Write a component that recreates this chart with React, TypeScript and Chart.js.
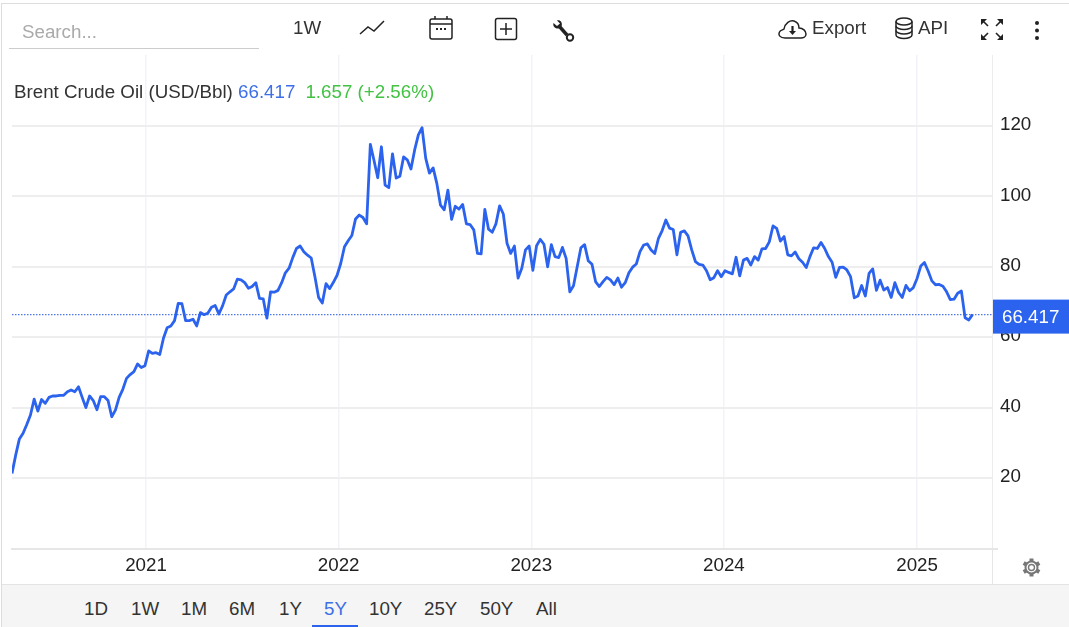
import React, { useEffect, useRef } from "react";
import Chart from "chart.js/auto";

// weekly closes, first one is late April 2020
const prices = [
  21.3, 26.5, 31.1, 32.7, 35.2, 37.9, 42.4, 39.0, 42.3, 41.2,
  42.9, 43.3, 43.3, 43.5, 43.5, 44.5, 45.0, 44.5, 45.9, 42.9,
  40.0, 43.3, 42.0, 39.4, 43.1, 43.1, 42.0, 37.4, 39.3, 42.9,
  45.2, 48.3, 49.4, 50.2, 52.4, 51.4, 51.9, 56.1, 55.4, 55.6,
  55.1, 59.7, 62.7, 63.2, 64.7, 69.6, 69.5, 64.7, 64.7, 65.1,
  63.2, 67.0, 66.4, 66.8, 68.5, 69.0, 66.6, 68.9, 72.0, 72.9,
  73.7, 76.5, 76.3, 75.5, 73.9, 74.4, 75.5, 71.0, 70.9, 65.4,
  72.9, 72.8, 73.3, 75.5, 78.3, 79.6, 82.6, 85.2, 85.9, 84.3,
  83.3, 82.5, 77.2, 71.3, 69.7, 75.2, 73.8, 75.6, 77.6, 81.0,
  85.7, 87.4, 88.9, 93.6, 94.7, 94.0, 92.2, 114.8, 110.2, 105.3,
  114.1, 103.2, 102.5, 112.1, 105.2, 105.7, 111.2, 110.4, 107.8, 113.2,
  117.5, 119.5, 110.8, 106.6, 108.1, 103.7, 97.5, 96.2, 101.8, 93.5,
  97.2, 96.4, 97.7, 92.2, 92.0, 90.5, 83.8, 83.7, 96.3, 90.7,
  89.8, 92.2, 97.3, 95.0, 86.7, 83.8, 85.9, 76.8, 79.6, 84.8,
  85.9, 79.0, 86.0, 87.8, 86.4, 80.0, 86.3, 82.9, 82.6, 85.5,
  82.4, 72.9, 74.6, 80.0, 85.4, 86.3, 81.7, 80.7, 75.7, 74.4,
  75.8, 77.0, 76.3, 74.9, 76.8, 74.2, 75.5, 78.3, 79.9, 80.8,
  84.3, 86.2, 86.5, 84.8, 83.8, 88.1, 90.3, 93.3, 91.0, 90.6,
  83.4, 89.8, 90.2, 88.8, 84.8, 81.5, 80.7, 80.5, 78.9, 76.3,
  76.9, 78.9, 77.2, 78.9, 78.4, 78.0, 82.7, 77.4, 81.9, 82.4,
  80.5, 82.9, 81.9, 85.1, 85.2, 87.1, 91.6, 90.9, 87.3, 88.6,
  83.4, 83.1, 84.2, 82.3, 81.3, 79.8, 82.9, 85.4, 85.2, 86.9,
  85.2, 82.9, 81.3, 77.0, 79.8, 79.9, 79.1, 77.2, 71.2, 71.7,
  74.7, 71.7, 78.1, 79.4, 73.3, 76.2, 73.4, 74.1, 71.3, 75.5,
  72.7, 71.3, 74.7, 73.2, 74.1, 76.7, 80.2, 81.2, 78.8, 76.0,
  74.9, 75.0, 74.5, 72.9, 70.7, 70.8, 72.5, 73.1, 65.5, 64.9,
  66.417,
];
const lastPrice = 66.417;

// x axis counts days from 2021-01-01
const firstDay = -254;
const lastAxisDay = 1603;
const yearDays = [0, 365, 730, 1095, 1461];
const yearLabels = ["2021", "2022", "2023", "2024", "2025"];
const priceTicks = [20, 40, 60, 80, 100, 120];

const uiFont = "'Liberation Sans', Arial, sans-serif";
const uiSize = 18.75;
const blue = "#2b63ee";

const rangeButtons = [
  { label: "1D", left: 84 },
  { label: "1W", left: 131 },
  { label: "1M", left: 181 },
  { label: "6M", left: 229 },
  { label: "1Y", left: 279 },
  { label: "5Y", left: 324 },
  { label: "10Y", left: 369 },
  { label: "25Y", left: 424 },
  { label: "50Y", left: 480 },
  { label: "All", left: 536 },
];

const priceBadge = {
  id: "priceBadge",
  afterDraw(chart: any) {
    const { ctx, scales } = chart;
    const y = scales.y.getPixelForValue(lastPrice);
    ctx.save();
    ctx.fillStyle = blue;
    ctx.fillRect(993, y - 15, 76, 34);
    ctx.fillStyle = "#ffffff";
    ctx.font = `${uiSize}px ${uiFont}`;
    ctx.textBaseline = "middle";
    ctx.fillText(lastPrice.toFixed(3), 1002, y + 3);
    ctx.restore();
  },
};

const label = (left: number, top: number, text: string, color = "#333") => (
  <span
    style={{
      position: "absolute",
      left,
      top,
      fontSize: uiSize,
      lineHeight: "22px",
      color,
      whiteSpace: "nowrap",
    }}
  >
    {text}
  </span>
);

const icon = (left: number, top: number, w: number, h: number, body: React.ReactNode) => (
  <svg
    style={{ position: "absolute", left, top }}
    width={w}
    height={h}
    viewBox={`0 0 ${w} ${h}`}
    fill="none"
    stroke="#222"
    strokeWidth={1.5}
  >
    {body}
  </svg>
);

const arrowHeads = [
  "M1 1 H7 L1 7 Z",
  "M23 1 H17 L23 7 Z",
  "M1 22 H7 L1 16 Z",
  "M23 22 H17 L23 16 Z",
];
const arrowTails = ["M3 3 L8 8", "M21 3 L16 8", "M3 20 L8 15", "M21 20 L16 15"];
const gearTeeth = [0, 60, 120, 180, 240, 300];

export default function App() {
  const canvasRef = useRef<HTMLCanvasElement | null>(null);

  useEffect(() => {
    if (!canvasRef.current) return;
    const chart = new Chart(canvasRef.current, {
      type: "line",
      data: {
        datasets: [
          {
            data: prices.map((p, i) => ({ x: firstDay + i * 7, y: p })),
            borderColor: blue,
            borderWidth: 2.8,
            pointRadius: 0,
            tension: 0,
            borderJoinStyle: "round",
          },
          {
            data: [
              { x: firstDay, y: lastPrice },
              { x: lastAxisDay, y: lastPrice },
            ],
            borderColor: "#4f78e6",
            borderWidth: 1.4,
            borderDash: [1.5, 1.5],
            pointRadius: 0,
          },
        ],
      },
      options: {
        responsive: false,
        animation: false,
        layout: { padding: { left: 12, top: 55, right: 0, bottom: 0 } },
        plugins: { legend: { display: false }, tooltip: { enabled: false } },
        scales: {
          x: {
            type: "linear",
            min: firstDay,
            max: lastAxisDay,
            afterBuildTicks: (scale: any) => {
              scale.ticks = yearDays.map((value) => ({ value }));
            },
            afterFit: (scale: any) => {
              scale.height = 78;
            },
            ticks: {
              autoSkip: false,
              maxRotation: 0,
              padding: 6,
              color: "#222",
              font: { family: uiFont, size: uiSize },
              callback: (v: any) => yearLabels[yearDays.indexOf(v)],
            },
            grid: { color: "#f1f3f9", lineWidth: 1.5, drawTicks: false },
            border: { color: "#e6e6e6", width: 2 },
          },
          y: {
            position: "right",
            min: -0.17,
            max: 140.17,
            afterBuildTicks: (scale: any) => {
              scale.ticks = priceTicks.map((value) => ({ value }));
            },
            afterFit: (scale: any) => {
              scale.width = 77;
            },
            ticks: {
              padding: 8,
              labelOffset: -1,
              color: "#222",
              font: { family: uiFont, size: uiSize },
            },
            grid: { color: "#eeeeee", lineWidth: 2, drawTicks: false },
            border: { color: "#ececec", width: 1 },
          },
        },
      },
      plugins: [priceBadge],
    });
    return () => {
      chart.destroy();
    };
  }, []);

  return (
    <div
      style={{
        position: "absolute",
        left: 0,
        top: 0,
        width: 1069,
        height: 627,
        overflow: "hidden",
        background: "#fff",
        fontFamily: uiFont,
      }}
    >
      <canvas ref={canvasRef} width={1069} height={627} style={{ position: "absolute", left: 0, top: 0 }} />

      {/* frame */}
      <div style={{ position: "absolute", left: 1, top: 3, width: 1068, height: 1, background: "#dddddd" }} />
      <div style={{ position: "absolute", left: 1, top: 3, width: 1, height: 624, background: "#dddddd" }} />
      <div style={{ position: "absolute", left: 992, top: 549, width: 1, height: 35, background: "#e6e6e6" }} />
      <div style={{ position: "absolute", left: 992, top: 548, width: 6, height: 2, background: "#e6e6e6" }} />

      {/* top toolbar */}
      {label(22, 21, "Search...", "#aaaaaa")}
      <div style={{ position: "absolute", left: 9, top: 48, width: 250, height: 1, background: "#cccccc" }} />
      {label(293, 17, "1W")}
      {icon(359, 19, 26, 18, <path d="M1 15 L9 8 L15 12 L25 2" />)}
      {icon(429, 15, 25, 26, (
        <>
          <rect x="1" y="4" width="22" height="20" rx="2" />
          <path d="M1 9 H23 M6 1 V4 M18 1 V4" />
          <path d="M7 14 H9 M11 14 H13 M15 14 H17" strokeWidth={2} />
        </>
      ))}
      {icon(494, 17, 24, 24, (
        <>
          <rect x="1.5" y="1.5" width="21" height="21" rx="2" />
          <path d="M12 6 V18 M6 12 H18" />
        </>
      ))}
      {icon(552, 19, 24, 24, (
        <>
          <path d="M7 7 L15 16" strokeWidth={3.4} />
          <path d="M1.5 4 L5 7 L8 4.5 L5 1.5 C8 0.5 11 3.5 9.5 7.5 L6.5 9.5 C3 10 0.5 7 1.5 4 Z" fill="#222" stroke="none" />
          <circle cx="18" cy="18.5" r="3.2" strokeWidth={2} />
        </>
      ))}
      {icon(778, 18, 29, 22, (
        <>
          <path d="M7 20 C2 20 0 17 1.5 14 C2.5 12 5 12 6 11 C7 5 12 2 16 3 C19 4 21 7 21 10 C25 10 28 13 28 16 C28 19 25 20 23 20 Z" />
          <path d="M14.5 8 V15" strokeWidth={2.2} />
          <path d="M11 13 L14.5 17 L18 13 Z" fill="#222" stroke="none" />
        </>
      ))}
      {label(812, 17, "Export")}
      {icon(894, 17, 20, 23, (
        <>
          <ellipse cx="10" cy="4.5" rx="8" ry="3.5" />
          <path d="M2 4.5 V18 C2 20 6 21.5 10 21.5 C14 21.5 18 20 18 18 V4.5" />
          <path d="M2 9 C2 11 6 12.5 10 12.5 C14 12.5 18 11 18 9 M2 13.5 C2 15.5 6 17 10 17 C14 17 18 15.5 18 13.5" />
        </>
      ))}
      {label(918, 17, "API")}
      {icon(980, 18, 24, 23, (
        <>
          <path d={arrowHeads.join(" ")} fill="#222" stroke="none" />
          <path d={arrowTails.join(" ")} strokeWidth={1.6} />
        </>
      ))}
      {icon(1033, 20, 8, 22, (
        <>
          <circle cx="4" cy="3" r="2" fill="#222" stroke="none" />
          <circle cx="4" cy="10.5" r="2" fill="#222" stroke="none" />
          <circle cx="4" cy="18" r="2" fill="#222" stroke="none" />
        </>
      ))}

      {/* legend line */}
      <div style={{ position: "absolute", left: 14, top: 81, fontSize: uiSize, lineHeight: "22px", whiteSpace: "nowrap", color: "#333" }}>
        Brent Crude Oil (USD/Bbl) <span style={{ color: "#3d6fe6" }}>66.417</span>
        <span style={{ color: "#43c243", marginLeft: 10 }}>1.657 (+2.56%)</span>
      </div>

      {/* settings gear */}
      {icon(1021, 557, 21, 21, (
        <>
          <circle cx="10.5" cy="10.5" r="6" stroke="#777" strokeWidth={2} />
          <circle cx="10.5" cy="10.5" r="3" stroke="#777" strokeWidth={1.4} />
          {gearTeeth.map((a) => (
            <path key={a} d="M10.5 1.5 V5" stroke="#777" strokeWidth={4} transform={`rotate(${a} 10.5 10.5)`} />
          ))}
        </>
      ))}

      {/* range bar */}
      <div style={{ position: "absolute", left: 2, top: 584, width: 1067, height: 43, background: "#f5f5f5", borderTop: "1px solid #e4e4e4" }} />
      {rangeButtons.map((b) => (
        <React.Fragment key={b.label}>{label(b.left, 598, b.label, b.label === "5Y" ? "#3d6fe6" : "#333")}</React.Fragment>
      ))}
      <div style={{ position: "absolute", left: 312, top: 625, width: 46, height: 2, background: blue }} />
    </div>
  );
}
